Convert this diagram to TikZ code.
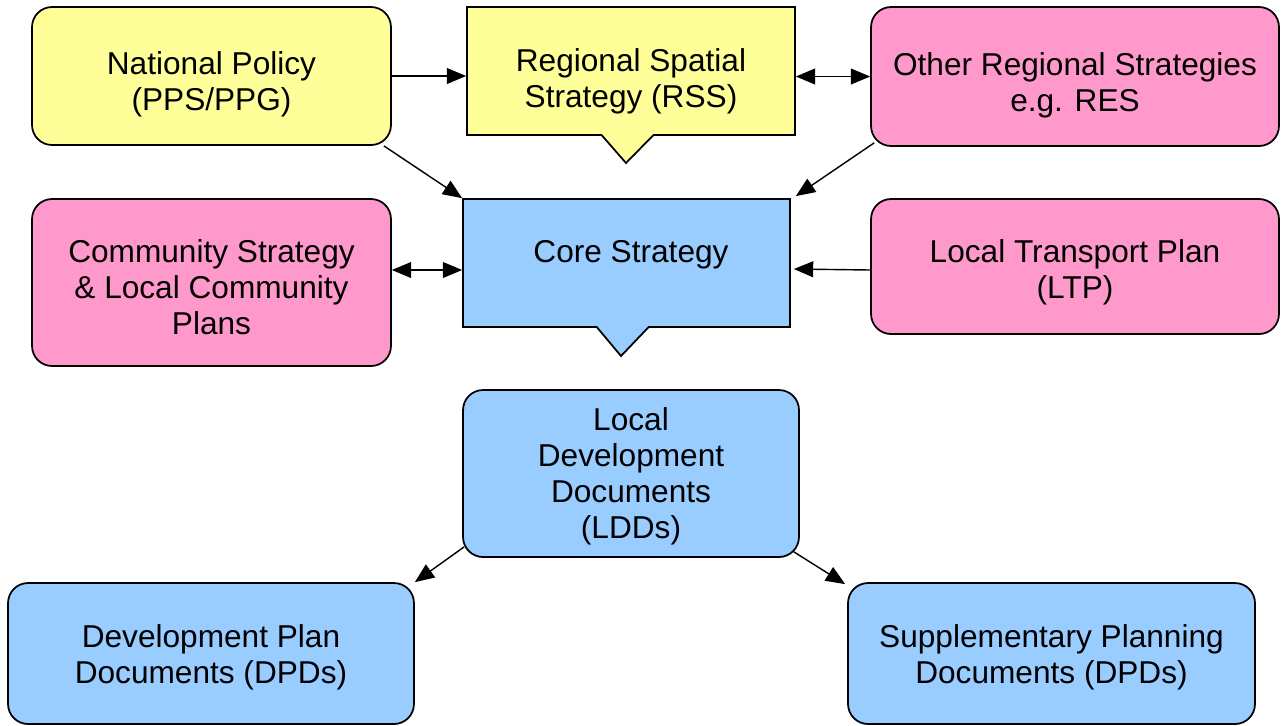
\documentclass[tikz,border=0pt]{standalone}
\usepackage{fontspec}
\setmainfont{Liberation Sans}
\usepackage{xcolor}
\usetikzlibrary{shapes.callouts,arrows.meta,calc}

\definecolor{paleyellow}{HTML}{FFFF99}
\definecolor{palepink}{HTML}{FF99CC}
\definecolor{paleblue}{HTML}{99CCFF}

\begin{document}
\begin{tikzpicture}[x=0.02cm,y=-0.02cm,
    box/.style={draw,line width=1pt,rounded corners=0.4cm,align=center,font=\fontsize{18}{20.4}\selectfont},
    callbox/.style={draw,line width=1pt,rectangle callout,callout pointer width=1.04cm,align=center,font=\fontsize{18}{20.4}\selectfont},
    link/.style={line width=0.8pt,-{Triangle[length=11pt,width=9pt]}},
    twoway/.style={line width=0.8pt,{Triangle[length=11pt,width=9pt]}-{Triangle[length=11pt,width=9pt]}}]
    \useasboundingbox (0,0) rectangle (1281,725);

    % top row
    \node[box,fill=paleyellow,minimum width=7.18cm,minimum height=2.76cm,text height=43pt] (national) at (211.5,76) {National Policy\\(PPS/PPG)};
    \node[callbox,fill=paleyellow,minimum width=6.56cm,minimum height=2.56cm,text height=45.3pt,callout absolute pointer={(626,163)}] (rss) at (631,71) {Regional Spatial\\Strategy (RSS)};
    \node[box,fill=palepink,minimum width=8.16cm,minimum height=2.78cm,text height=43pt] (other) at (1075,76.5) {Other Regional Strategies\\e.g. RES};

    % middle row
    \node[box,fill=palepink,minimum width=7.18cm,minimum height=3.34cm,text height=59.5pt] (community) at (211.5,282.5) {Community Strategy\\\& Local Community\\Plans};
    \node[callbox,fill=paleblue,minimum width=6.54cm,minimum height=2.56cm,callout absolute pointer={(621,356)}] (core) at (626.5,263) {};
    \node[font=\fontsize{18}{20.4}\selectfont] (coretext) at (631,255) {Core Strategy};
    \node[box,fill=palepink,minimum width=8.16cm,minimum height=2.7cm,text height=39.7pt] (ltp) at (1075,266.5) {Local Transport Plan\\(LTP)};

    % lower rows
    \node[box,fill=paleblue,minimum width=6.72cm,minimum height=3.34cm,text height=77.4pt] (ldd) at (631,473.5) {Local\\Development\\Documents\\(LDDs)};
    \node[box,fill=paleblue,minimum width=8.12cm,minimum height=2.82cm,text height=37.4pt] (dpd) at (211,653.5) {Development Plan\\Documents (DPDs)};
    \node[box,fill=paleblue,minimum width=8.14cm,minimum height=2.82cm,text height=37.4pt] (spd) at (1051.5,653.5) {Supplementary Planning\\Documents (DPDs)};

    % connectors
    \draw[link] (national.east) -- (rss.west |- national.east);
    \draw[twoway] (rss.east |- other.west) -- (other.west);
    \draw[link] ($(national.south east)+(-8,0)$) -- (core.north west);
    \draw[link] ($(other.south west)+(4,-4)$) -- ($(core.north east)+(5,-2)$);
    \draw[twoway] ($(community.east)+(0,-12.5)$) -- (core.west |- {$(community.east)+(0,-12.5)$});
    \draw[link] ($(ltp.west)+(0,3.5)$) -- ($(core.east)+(3,6)$);
    \draw[link] ($(ldd.south west)+(2,-11)$) -- (dpd.north east);
    \draw[link] ($(ldd.south east)+(-6,-6)$) -- ($(spd.north west)+(-2,2)$);
\end{tikzpicture}
\end{document}
